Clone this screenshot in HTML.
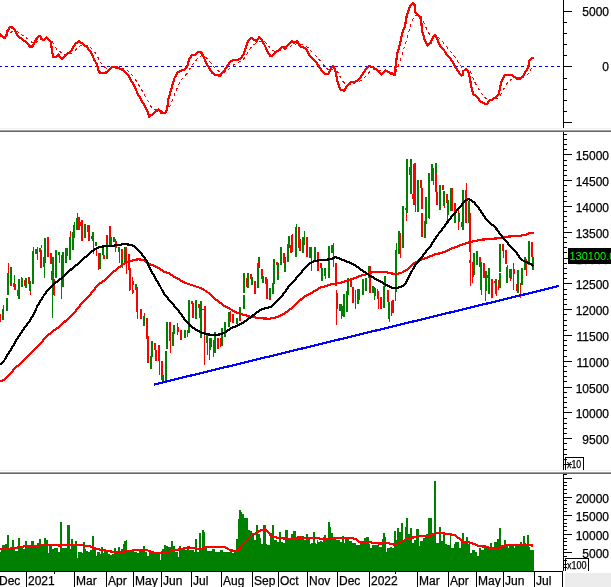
<!DOCTYPE html><html><head><meta charset="utf-8"><style>html,body{margin:0;padding:0;background:#fff;}svg{display:block;}text{font-family:"Liberation Sans", Arial, sans-serif;stroke:#000;stroke-width:0.25px;}</style></head><body>
<svg width="611" height="587" viewBox="0 0 611 587">
<rect x="0" y="0" width="611" height="587" fill="#fff"/>
<rect x="0" y="128" width="611" height="1" fill="#f0f0f0" shape-rendering="crispEdges"/>
<rect x="0" y="130" width="611" height="1" fill="#a0a0a0" shape-rendering="crispEdges"/>
<rect x="0" y="131" width="611" height="1" fill="#696969" shape-rendering="crispEdges"/>
<rect x="0" y="470" width="611" height="1" fill="#f0f0f0" shape-rendering="crispEdges"/>
<rect x="0" y="472" width="611" height="1" fill="#a0a0a0" shape-rendering="crispEdges"/>
<rect x="0" y="473" width="611" height="1" fill="#696969" shape-rendering="crispEdges"/>
<g shape-rendering="crispEdges">
<line x1="0" y1="66.5" x2="563" y2="66.5" stroke="#0000ff" stroke-width="1" stroke-dasharray="3 3" stroke-dashoffset="1"/>
</g>
<polyline points="0.0,36.3 1.0,36.1 2.0,36.1 3.0,36.2 4.0,36.4 5.0,36.6 6.0,36.5 7.0,36.0 8.0,35.1 9.0,34.2 10.0,33.2 11.0,32.4 12.0,31.7 13.0,31.2 14.0,30.8 15.0,30.8 16.0,31.0 17.0,31.5 18.0,32.2 19.0,32.8 20.0,33.5 21.0,34.2 22.0,34.8 23.0,35.5 24.0,36.2 25.0,36.9 26.0,37.7 27.0,38.4 28.0,39.2 29.0,40.1 30.0,41.0 31.0,41.7 32.0,42.4 33.0,42.9 34.0,43.0 35.0,42.7 36.0,42.3 37.0,41.7 38.0,41.1 39.0,40.4 40.0,39.9 41.0,39.6 42.0,39.5 43.0,39.5 44.0,39.6 45.0,39.5 46.0,39.3 47.0,39.1 48.0,39.1 49.0,39.2 50.0,39.4 51.0,39.7 52.0,41.2 53.0,43.3 54.0,45.3 55.0,47.0 56.0,48.3 57.0,49.4 58.0,50.2 59.0,50.9 60.0,51.7 61.0,52.6 62.0,53.5 63.0,54.2 64.0,54.6 65.0,54.8 66.0,54.8 67.0,54.7 68.0,54.6 69.0,54.3 70.0,54.0 71.0,53.6 72.0,53.0 73.0,52.3 74.0,51.4 75.0,50.4 76.0,49.4 77.0,48.5 78.0,47.5 79.0,46.6 80.0,45.9 81.0,45.5 82.0,45.2 83.0,45.0 84.0,45.0 85.0,45.1 86.0,45.3 87.0,45.5 88.0,45.9 89.0,46.5 90.0,47.1 91.0,47.9 92.0,48.8 93.0,49.9 94.0,51.2 95.0,52.6 96.0,54.0 97.0,55.6 98.0,57.4 99.0,59.4 100.0,61.3 101.0,62.9 102.0,64.3 103.0,65.5 104.0,66.5 105.0,67.4 106.0,68.1 107.0,68.6 108.0,69.0 109.0,69.2 110.0,69.2 111.0,69.1 112.0,68.8 113.0,68.6 114.0,68.4 115.0,68.2 116.0,68.1 117.0,68.0 118.0,67.9 119.0,67.9 120.0,68.1 121.0,68.2 122.0,68.4 123.0,68.7 124.0,68.9 125.0,69.3 126.0,69.8 127.0,70.4 128.0,71.1 129.0,71.9 130.0,72.8 131.0,73.9 132.0,75.0 133.0,76.2 134.0,77.5 135.0,78.9 136.0,80.5 137.0,82.1 138.0,83.8 139.0,85.5 140.0,87.2 141.0,88.9 142.0,90.6 143.0,92.3 144.0,94.1 145.0,95.8 146.0,97.6 147.0,99.3 148.0,101.3 149.0,103.3 150.0,105.1 151.0,106.6 152.0,107.7 153.0,108.6 154.0,109.3 155.0,109.7 156.0,110.0 157.0,110.0 158.0,110.0 159.0,110.0 160.0,110.2 161.0,110.5 162.0,110.9 163.0,111.2 164.0,111.5 165.0,111.7 166.0,111.7 167.0,111.3 168.0,109.8 169.0,108.0 170.0,106.0 171.0,103.8 172.0,101.4 173.0,98.8 174.0,96.1 175.0,93.5 176.0,90.9 177.0,88.5 178.0,86.1 179.0,84.1 180.0,82.3 181.0,80.7 182.0,79.2 183.0,78.0 184.0,76.8 185.0,75.7 186.0,74.6 187.0,73.4 188.0,72.1 189.0,70.3 190.0,68.6 191.0,66.9 192.0,65.2 193.0,63.8 194.0,62.6 195.0,61.5 196.0,60.4 197.0,59.3 198.0,58.3 199.0,57.4 200.0,56.7 201.0,56.1 202.0,55.8 203.0,55.7 204.0,56.0 205.0,56.6 206.0,57.4 207.0,58.4 208.0,59.4 209.0,60.6 210.0,61.9 211.0,63.1 212.0,64.5 213.0,65.7 214.0,66.9 215.0,68.0 216.0,68.9 217.0,69.8 218.0,70.6 219.0,71.3 220.0,71.9 221.0,72.2 222.0,72.4 223.0,72.4 224.0,72.2 225.0,71.8 226.0,71.3 227.0,70.7 228.0,69.9 229.0,69.0 230.0,68.0 231.0,67.1 232.0,66.2 233.0,65.3 234.0,64.5 235.0,63.9 236.0,63.3 237.0,62.9 238.0,62.5 239.0,62.0 240.0,61.6 241.0,61.1 242.0,60.4 243.0,59.6 244.0,58.7 245.0,57.6 246.0,56.1 247.0,54.4 248.0,52.6 249.0,50.8 250.0,49.1 251.0,47.6 252.0,46.3 253.0,45.3 254.0,44.5 255.0,43.9 256.0,43.6 257.0,43.2 258.0,42.6 259.0,41.9 260.0,41.4 261.0,41.1 262.0,41.0 263.0,41.2 264.0,41.6 265.0,42.2 266.0,43.0 267.0,44.1 268.0,45.3 269.0,46.5 270.0,47.8 271.0,49.0 272.0,49.9 273.0,50.7 274.0,51.1 275.0,51.3 276.0,51.3 277.0,51.3 278.0,51.2 279.0,51.0 280.0,50.8 281.0,50.5 282.0,50.1 283.0,49.6 284.0,49.3 285.0,49.2 286.0,48.9 287.0,48.6 288.0,48.1 289.0,47.4 290.0,46.8 291.0,46.1 292.0,45.4 293.0,44.9 294.0,44.7 295.0,44.3 296.0,44.0 297.0,43.6 298.0,43.4 299.0,43.6 300.0,44.0 301.0,44.4 302.0,44.7 303.0,45.0 304.0,45.4 305.0,45.8 306.0,46.3 307.0,46.9 308.0,47.7 309.0,48.6 310.0,49.7 311.0,50.8 312.0,51.9 313.0,52.9 314.0,54.0 315.0,55.0 316.0,56.0 317.0,57.1 318.0,58.2 319.0,59.4 320.0,60.6 321.0,61.9 322.0,63.1 323.0,64.3 324.0,65.5 325.0,66.6 326.0,67.7 327.0,68.5 328.0,69.3 329.0,69.8 330.0,69.9 331.0,69.7 332.0,69.4 333.0,68.9 334.0,68.8 335.0,68.9 336.0,69.6 337.0,70.9 338.0,72.6 339.0,74.5 340.0,76.5 341.0,78.3 342.0,80.0 343.0,81.4 344.0,82.7 345.0,83.7 346.0,84.2 347.0,84.5 348.0,84.5 349.0,84.4 350.0,84.2 351.0,83.9 352.0,83.6 353.0,83.4 354.0,83.3 355.0,83.1 356.0,82.9 357.0,82.6 358.0,82.3 359.0,81.8 360.0,81.2 361.0,80.6 362.0,79.8 363.0,78.9 364.0,78.0 365.0,77.0 366.0,75.9 367.0,74.8 368.0,73.7 369.0,72.6 370.0,71.7 371.0,71.0 372.0,70.5 373.0,70.1 374.0,69.8 375.0,69.7 376.0,69.6 377.0,69.7 378.0,69.9 379.0,70.2 380.0,70.6 381.0,71.2 382.0,71.6 383.0,71.8 384.0,71.8 385.0,71.6 386.0,71.5 387.0,71.5 388.0,71.5 389.0,71.6 390.0,71.9 391.0,72.2 392.0,72.5 393.0,72.8 394.0,73.0 395.0,72.9 396.0,71.5 397.0,69.3 398.0,66.7 399.0,64.0 400.0,61.2 401.0,58.1 402.0,54.8 403.0,51.5 404.0,48.3 405.0,45.2 406.0,41.7 407.0,37.8 408.0,34.2 409.0,30.7 410.0,27.3 411.0,24.2 412.0,21.4 413.0,18.8 414.0,16.7 415.0,15.6 416.0,15.2 417.0,15.0 418.0,14.9 419.0,15.1 420.0,15.4 421.0,15.9 422.0,17.8 423.0,20.1 424.0,22.6 425.0,25.0 426.0,27.4 427.0,29.8 428.0,31.9 429.0,33.6 430.0,35.0 431.0,36.0 432.0,36.4 433.0,36.6 434.0,36.5 435.0,36.3 436.0,36.4 437.0,36.7 438.0,37.3 439.0,38.1 440.0,39.2 441.0,40.2 442.0,41.2 443.0,42.3 444.0,43.4 445.0,44.6 446.0,45.8 447.0,47.0 448.0,48.3 449.0,49.5 450.0,50.7 451.0,52.0 452.0,53.2 453.0,54.4 454.0,55.8 455.0,57.3 456.0,58.8 457.0,60.3 458.0,61.8 459.0,63.3 460.0,64.8 461.0,66.3 462.0,67.5 463.0,68.3 464.0,68.6 465.0,68.8 466.0,68.9 467.0,69.1 468.0,69.4 469.0,70.0 470.0,71.3 471.0,73.1 472.0,75.4 473.0,78.0 474.0,80.4 475.0,82.5 476.0,84.4 477.0,86.2 478.0,87.8 479.0,89.5 480.0,91.2 481.0,92.7 482.0,94.0 483.0,95.2 484.0,96.4 485.0,97.4 486.0,98.3 487.0,99.1 488.0,99.6 489.0,99.8 490.0,99.9 491.0,99.9 492.0,99.9 493.0,99.8 494.0,99.6 495.0,99.3 496.0,99.0 497.0,98.6 498.0,98.2 499.0,97.5 500.0,96.1 501.0,94.3 502.0,92.4 503.0,90.3 504.0,88.4 505.0,86.5 506.0,84.9 507.0,83.5 508.0,82.3 509.0,81.3 510.0,80.4 511.0,79.6 512.0,78.9 513.0,78.5 514.0,78.2 515.0,78.1 516.0,78.1 517.0,78.2 518.0,78.2 519.0,78.3 520.0,78.3 521.0,78.2 522.0,78.1 523.0,77.8 524.0,77.3 525.0,76.7 526.0,75.9 527.0,75.0 528.0,73.8 529.0,72.4 530.0,70.7 531.0,69.1 532.0,67.5 533.0,66.2" fill="none" stroke="#ff0000" stroke-width="1" stroke-dasharray="3 3" shape-rendering="crispEdges"/>
<polyline points="0.0,33.7 2.0,36.3 4.6,38.0 6.6,34.8 7.7,30.2 10.2,27.1 13.3,27.8 15.3,30.7 17.4,35.8 20.4,37.8 24.5,40.9 28.1,44.0 29.7,46.5 32.7,46.5 35.3,40.4 38.9,36.3 40.4,36.3 41.4,38.9 44.0,39.9 46.5,37.6 49.1,39.9 51.1,41.9 51.6,48.1 53.2,57.3 55.2,57.3 57.3,55.7 58.4,54.6 61.9,59.2 66.5,54.6 71.0,51.2 75.0,44.3 79.1,40.9 82.5,43.8 87.1,47.2 91.7,53.5 94.0,59.2 96.8,64.4 99.1,72.4 103.1,73.0 106.6,72.4 112.3,67.2 117.4,67.2 120.0,68.7 124.2,70.7 128.3,75.6 133.9,85.3 138.1,94.4 143.7,104.1 147.1,110.4 149.2,116.6 153.4,113.9 158.3,109.3 161.7,113.2 165.2,113.2 167.3,108.3 168.0,100.6 170.8,90.9 174.3,78.4 177.7,72.1 181.2,70.7 184.7,69.4 187.5,65.8 188.9,59.6 191.6,55.4 195.1,54.7 197.9,51.9 201.4,52.6 203.5,56.1 205.2,61.0 208.8,67.5 212.2,73.0 215.5,74.8 220.0,75.7 223.2,72.0 226.5,67.5 230.0,62.0 233.2,59.7 237.6,60.2 241.0,58.0 244.2,53.0 246.5,45.4 248.7,39.8 251.3,38.0 254.2,39.8 256.4,41.6 259.3,37.2 262.4,41.0 265.3,46.5 267.5,52.0 270.8,56.4 273.0,55.3 275.2,52.0 279.6,49.8 283.0,46.5 285.2,48.7 288.5,44.2 291.8,41.0 294.0,43.0 297.3,41.0 300.0,46.5 303.3,47.0 306.6,49.8 310.0,56.4 313.3,59.7 316.6,63.0 321.0,69.7 325.4,74.0 328.3,74.0 331.0,68.6 333.2,66.0 335.4,70.8 337.6,81.9 340.3,89.6 344.2,90.7 347.6,85.2 350.9,81.9 354.2,82.3 357.5,80.8 362.0,75.2 366.4,68.6 369.0,66.0 373.0,67.5 377.4,70.4 381.4,74.8 385.2,70.4 388.5,72.0 390.7,74.0 394.7,74.8 395.6,66.4 397.3,53.0 400.0,44.2 402.2,33.2 404.9,26.5 407.0,14.4 410.0,6.6 412.8,2.7 414.4,4.4 415.5,12.2 418.8,15.5 421.0,18.8 422.1,31.0 424.3,38.7 427.6,45.4 430.5,43.1 432.7,37.6 435.0,35.0 437.6,39.8 439.8,45.4 443.1,48.7 446.5,54.2 449.8,58.0 453.0,62.0 455.0,66.4 457.8,70.9 461.3,75.7 462.6,75.0 463.3,70.9 465.4,69.7 468.2,70.9 469.6,76.4 471.0,84.8 473.1,94.5 475.9,95.9 478.6,98.7 480.0,101.5 482.8,102.6 484.9,104.0 487.7,103.5 489.1,100.8 492.6,99.4 496.7,96.6 498.8,94.5 499.5,90.3 500.9,83.4 503.0,77.8 505.1,75.0 512.0,74.8 516.2,78.5 520.4,78.5 523.2,75.7 526.6,70.2 528.7,65.3 529.4,61.1 531.5,58.3 533.6,57.6" fill="none" stroke="#ff0000" stroke-width="2.2" stroke-linejoin="round" shape-rendering="crispEdges"/>
<g shape-rendering="crispEdges"><rect x="563" y="0" width="1" height="128" fill="#000"/><rect x="563" y="132" width="1" height="338" fill="#000"/><rect x="563" y="474" width="1" height="97" fill="#000"/><rect x="564" y="11" width="8" height="1" fill="#000"/><rect x="564" y="22" width="3" height="1" fill="#000"/><rect x="564" y="33" width="3" height="1" fill="#000"/><rect x="564" y="44" width="3" height="1" fill="#000"/><rect x="564" y="55" width="3" height="1" fill="#000"/><rect x="564" y="66" width="8" height="1" fill="#000"/><rect x="564" y="78" width="3" height="1" fill="#000"/><rect x="564" y="89" width="3" height="1" fill="#000"/><rect x="564" y="100" width="3" height="1" fill="#000"/><rect x="564" y="111" width="3" height="1" fill="#000"/><rect x="564" y="122" width="8" height="1" fill="#000"/><rect x="564" y="464" width="8" height="1" fill="#000"/><rect x="564" y="459" width="3" height="1" fill="#000"/><rect x="564" y="454" width="3" height="1" fill="#000"/><rect x="564" y="449" width="3" height="1" fill="#000"/><rect x="564" y="443" width="3" height="1" fill="#000"/><rect x="564" y="438" width="8" height="1" fill="#000"/><rect x="564" y="433" width="3" height="1" fill="#000"/><rect x="564" y="428" width="3" height="1" fill="#000"/><rect x="564" y="423" width="3" height="1" fill="#000"/><rect x="564" y="418" width="3" height="1" fill="#000"/><rect x="564" y="412" width="8" height="1" fill="#000"/><rect x="564" y="407" width="3" height="1" fill="#000"/><rect x="564" y="402" width="3" height="1" fill="#000"/><rect x="564" y="397" width="3" height="1" fill="#000"/><rect x="564" y="392" width="3" height="1" fill="#000"/><rect x="564" y="387" width="8" height="1" fill="#000"/><rect x="564" y="381" width="3" height="1" fill="#000"/><rect x="564" y="376" width="3" height="1" fill="#000"/><rect x="564" y="371" width="3" height="1" fill="#000"/><rect x="564" y="366" width="3" height="1" fill="#000"/><rect x="564" y="361" width="8" height="1" fill="#000"/><rect x="564" y="356" width="3" height="1" fill="#000"/><rect x="564" y="350" width="3" height="1" fill="#000"/><rect x="564" y="345" width="3" height="1" fill="#000"/><rect x="564" y="340" width="3" height="1" fill="#000"/><rect x="564" y="335" width="8" height="1" fill="#000"/><rect x="564" y="330" width="3" height="1" fill="#000"/><rect x="564" y="325" width="3" height="1" fill="#000"/><rect x="564" y="320" width="3" height="1" fill="#000"/><rect x="564" y="314" width="3" height="1" fill="#000"/><rect x="564" y="309" width="8" height="1" fill="#000"/><rect x="564" y="304" width="3" height="1" fill="#000"/><rect x="564" y="299" width="3" height="1" fill="#000"/><rect x="564" y="294" width="3" height="1" fill="#000"/><rect x="564" y="289" width="3" height="1" fill="#000"/><rect x="564" y="283" width="8" height="1" fill="#000"/><rect x="564" y="278" width="3" height="1" fill="#000"/><rect x="564" y="273" width="3" height="1" fill="#000"/><rect x="564" y="268" width="3" height="1" fill="#000"/><rect x="564" y="263" width="3" height="1" fill="#000"/><rect x="564" y="258" width="8" height="1" fill="#000"/><rect x="564" y="252" width="3" height="1" fill="#000"/><rect x="564" y="247" width="3" height="1" fill="#000"/><rect x="564" y="242" width="3" height="1" fill="#000"/><rect x="564" y="237" width="3" height="1" fill="#000"/><rect x="564" y="232" width="8" height="1" fill="#000"/><rect x="564" y="227" width="3" height="1" fill="#000"/><rect x="564" y="221" width="3" height="1" fill="#000"/><rect x="564" y="216" width="3" height="1" fill="#000"/><rect x="564" y="211" width="3" height="1" fill="#000"/><rect x="564" y="206" width="8" height="1" fill="#000"/><rect x="564" y="201" width="3" height="1" fill="#000"/><rect x="564" y="196" width="3" height="1" fill="#000"/><rect x="564" y="191" width="3" height="1" fill="#000"/><rect x="564" y="185" width="3" height="1" fill="#000"/><rect x="564" y="180" width="8" height="1" fill="#000"/><rect x="564" y="175" width="3" height="1" fill="#000"/><rect x="564" y="170" width="3" height="1" fill="#000"/><rect x="564" y="165" width="3" height="1" fill="#000"/><rect x="564" y="160" width="3" height="1" fill="#000"/><rect x="564" y="154" width="8" height="1" fill="#000"/><rect x="564" y="149" width="3" height="1" fill="#000"/><rect x="564" y="144" width="3" height="1" fill="#000"/><rect x="564" y="139" width="3" height="1" fill="#000"/><rect x="564" y="134" width="3" height="1" fill="#000"/><rect x="564" y="567" width="3" height="1" fill="#000"/><rect x="564" y="564" width="3" height="1" fill="#000"/><rect x="564" y="560" width="3" height="1" fill="#000"/><rect x="564" y="556" width="3" height="1" fill="#000"/><rect x="564" y="552" width="8" height="1" fill="#000"/><rect x="564" y="549" width="3" height="1" fill="#000"/><rect x="564" y="545" width="3" height="1" fill="#000"/><rect x="564" y="541" width="3" height="1" fill="#000"/><rect x="564" y="538" width="3" height="1" fill="#000"/><rect x="564" y="534" width="8" height="1" fill="#000"/><rect x="564" y="530" width="3" height="1" fill="#000"/><rect x="564" y="526" width="3" height="1" fill="#000"/><rect x="564" y="523" width="3" height="1" fill="#000"/><rect x="564" y="519" width="3" height="1" fill="#000"/><rect x="564" y="515" width="8" height="1" fill="#000"/><rect x="564" y="511" width="3" height="1" fill="#000"/><rect x="564" y="508" width="3" height="1" fill="#000"/><rect x="564" y="504" width="3" height="1" fill="#000"/><rect x="564" y="500" width="3" height="1" fill="#000"/><rect x="564" y="497" width="8" height="1" fill="#000"/><rect x="564" y="493" width="3" height="1" fill="#000"/><rect x="564" y="489" width="3" height="1" fill="#000"/><rect x="564" y="485" width="3" height="1" fill="#000"/><rect x="564" y="482" width="3" height="1" fill="#000"/><rect x="564" y="478" width="8" height="1" fill="#000"/><rect x="564" y="474" width="3" height="1" fill="#000"/></g>
<text x="609" y="16.2" font-size="12" text-anchor="end" fill="#000">5000</text><text x="609" y="71.2" font-size="12" text-anchor="end" fill="#000">0</text><text x="609" y="443.5" font-size="12" text-anchor="end" fill="#000">9500</text><text x="609" y="417.5" font-size="12" text-anchor="end" fill="#000">10000</text><text x="609" y="392.5" font-size="12" text-anchor="end" fill="#000">10500</text><text x="609" y="366.5" font-size="12" text-anchor="end" fill="#000">11000</text><text x="609" y="340.5" font-size="12" text-anchor="end" fill="#000">11500</text><text x="609" y="314.5" font-size="12" text-anchor="end" fill="#000">12000</text><text x="609" y="288.5" font-size="12" text-anchor="end" fill="#000">12500</text><text x="609" y="263.5" font-size="12" text-anchor="end" fill="#000">13000</text><text x="609" y="237.5" font-size="12" text-anchor="end" fill="#000">13500</text><text x="609" y="211.5" font-size="12" text-anchor="end" fill="#000">14000</text><text x="609" y="185.5" font-size="12" text-anchor="end" fill="#000">14500</text><text x="609" y="159.5" font-size="12" text-anchor="end" fill="#000">15000</text><text x="609" y="557.5" font-size="12" text-anchor="end" fill="#000">5000</text><text x="609" y="539.5" font-size="12" text-anchor="end" fill="#000">10000</text><text x="609" y="520.5" font-size="12" text-anchor="end" fill="#000">15000</text><text x="609" y="502.5" font-size="12" text-anchor="end" fill="#000">20000</text>
<g shape-rendering="crispEdges" fill="none" stroke="#000" stroke-width="1">
<polyline points="565.5,470 565.5,457.5 583.5,457.5 583.5,470"/>
<polyline points="565.5,571 565.5,558.5 588.5,558.5 588.5,571"/>
</g>
<text x="567" y="468" font-size="10" textLength="14.2" lengthAdjust="spacingAndGlyphs" fill="#000">x10</text>
<text x="567" y="568.5" font-size="10" textLength="19.6" lengthAdjust="spacingAndGlyphs" fill="#000">x100</text>
<g shape-rendering="crispEdges"><rect x="0" y="314" width="1" height="8" fill="#ff0000"/><rect x="2" y="309" width="2" height="11" fill="#008000"/><rect x="3" y="305" width="1" height="4" fill="#ff0000"/><rect x="6" y="298" width="2" height="13" fill="#008000"/><rect x="7" y="273" width="2" height="22" fill="#008000"/><rect x="8" y="263" width="1" height="10" fill="#ff0000"/><rect x="10" y="267" width="2" height="17" fill="#008000"/><rect x="10" y="284" width="2" height="2" fill="#ff0000"/><rect x="13" y="283" width="2" height="4" fill="#008000"/><rect x="14" y="275" width="1" height="8" fill="#008000"/><rect x="14" y="284" width="2" height="6" fill="#ff0000"/><rect x="17" y="290" width="2" height="6" fill="#ff0000"/><rect x="18" y="279" width="2" height="20" fill="#008000"/><rect x="21" y="279" width="2" height="8" fill="#008000"/><rect x="21" y="277" width="1" height="2" fill="#ff0000"/><rect x="22" y="278" width="1" height="7" fill="#008000"/><rect x="24" y="280" width="1" height="6" fill="#ff0000"/><rect x="25" y="278" width="2" height="10" fill="#008000"/><rect x="28" y="277" width="2" height="7" fill="#ff0000"/><rect x="29" y="281" width="2" height="10" fill="#008000"/><rect x="30" y="291" width="1" height="4" fill="#ff0000"/><rect x="32" y="251" width="2" height="33" fill="#008000"/><rect x="33" y="247" width="1" height="4" fill="#008000"/><rect x="35" y="249" width="2" height="5" fill="#008000"/><rect x="37" y="247" width="1" height="13" fill="#ff0000"/><rect x="39" y="248" width="2" height="4" fill="#008000"/><rect x="41" y="245" width="1" height="3" fill="#008000"/><rect x="40" y="250" width="2" height="18" fill="#ff0000"/><rect x="43" y="257" width="2" height="10" fill="#008000"/><rect x="44" y="267" width="1" height="11" fill="#008000"/><rect x="44" y="238" width="2" height="25" fill="#008000"/><rect x="47" y="237" width="2" height="20" fill="#ff0000"/><rect x="50" y="253" width="2" height="11" fill="#ff0000"/><rect x="51" y="271" width="1" height="9" fill="#ff0000"/><rect x="52" y="257" width="2" height="38" fill="#008000"/><rect x="52" y="295" width="1" height="23" fill="#008000"/><rect x="54" y="279" width="1" height="17" fill="#ff0000"/><rect x="55" y="250" width="2" height="28" fill="#008000"/><rect x="58" y="252" width="2" height="3" fill="#008000"/><rect x="59" y="255" width="1" height="8" fill="#ff0000"/><rect x="61" y="255" width="1" height="44" fill="#ff0000"/><rect x="61" y="265" width="2" height="20" fill="#ff0000"/><rect x="62" y="252" width="2" height="35" fill="#008000"/><rect x="65" y="248" width="2" height="15" fill="#008000"/><rect x="66" y="248" width="2" height="8" fill="#008000"/><rect x="69" y="237" width="2" height="23" fill="#008000"/><rect x="70" y="231" width="1" height="6" fill="#ff0000"/><rect x="72" y="232" width="2" height="18" fill="#008000"/><rect x="73" y="225" width="1" height="7" fill="#008000"/><rect x="74" y="222" width="1" height="16" fill="#008000"/><rect x="76" y="218" width="2" height="12" fill="#008000"/><rect x="77" y="213" width="1" height="5" fill="#008000"/><rect x="78" y="217" width="2" height="13" fill="#ff0000"/><rect x="80" y="222" width="2" height="4" fill="#ff0000"/><rect x="81" y="220" width="2" height="21" fill="#ff0000"/><rect x="84" y="224" width="2" height="14" fill="#008000"/><rect x="87" y="225" width="2" height="7" fill="#ff0000"/><rect x="88" y="232" width="1" height="9" fill="#ff0000"/><rect x="89" y="225" width="1" height="16" fill="#ff0000"/><rect x="91" y="236" width="1" height="3" fill="#ff0000"/><rect x="92" y="232" width="2" height="9" fill="#008000"/><rect x="93" y="241" width="1" height="13" fill="#ff0000"/><rect x="95" y="242" width="2" height="4" fill="#008000"/><rect x="96" y="249" width="1" height="7" fill="#ff0000"/><rect x="98" y="253" width="1" height="17" fill="#ff0000"/><rect x="99" y="253" width="2" height="16" fill="#008000"/><rect x="102" y="248" width="2" height="7" fill="#008000"/><rect x="103" y="255" width="2" height="4" fill="#ff0000"/><rect x="106" y="235" width="2" height="8" fill="#ff0000"/><rect x="106" y="243" width="2" height="16" fill="#008000"/><rect x="109" y="226" width="2" height="19" fill="#ff0000"/><rect x="110" y="237" width="2" height="8" fill="#008000"/><rect x="113" y="237" width="2" height="5" fill="#008000"/><rect x="115" y="239" width="1" height="13" fill="#ff0000"/><rect x="115" y="241" width="2" height="7" fill="#ff0000"/><rect x="118" y="247" width="2" height="5" fill="#008000"/><rect x="119" y="252" width="1" height="11" fill="#ff0000"/><rect x="121" y="249" width="2" height="11" fill="#ff0000"/><rect x="121" y="260" width="2" height="4" fill="#008000"/><rect x="122" y="264" width="1" height="4" fill="#008000"/><rect x="124" y="247" width="2" height="15" fill="#008000"/><rect x="126" y="247" width="1" height="27" fill="#ff0000"/><rect x="128" y="254" width="2" height="16" fill="#ff0000"/><rect x="129" y="270" width="1" height="21" fill="#ff0000"/><rect x="130" y="268" width="1" height="22" fill="#ff0000"/><rect x="132" y="277" width="1" height="17" fill="#ff0000"/><rect x="133" y="281" width="1" height="4" fill="#ff0000"/><rect x="133" y="290" width="1" height="3" fill="#ff0000"/><rect x="135" y="284" width="2" height="6" fill="#008000"/><rect x="136" y="287" width="2" height="25" fill="#ff0000"/><rect x="137" y="312" width="1" height="7" fill="#ff0000"/><rect x="140" y="309" width="2" height="10" fill="#ff0000"/><rect x="143" y="316" width="2" height="10" fill="#008000"/><rect x="144" y="313" width="1" height="3" fill="#ff0000"/><rect x="146" y="318" width="2" height="21" fill="#ff0000"/><rect x="147" y="339" width="1" height="16" fill="#ff0000"/><rect x="147" y="336" width="2" height="27" fill="#ff0000"/><rect x="150" y="356" width="2" height="13" fill="#008000"/><rect x="151" y="341" width="2" height="16" fill="#008000"/><rect x="154" y="343" width="2" height="7" fill="#ff0000"/><rect x="155" y="350" width="1" height="11" fill="#ff0000"/><rect x="156" y="350" width="1" height="11" fill="#ff0000"/><rect x="158" y="345" width="2" height="16" fill="#ff0000"/><rect x="159" y="361" width="1" height="14" fill="#ff0000"/><rect x="161" y="361" width="2" height="19" fill="#ff0000"/><rect x="162" y="375" width="2" height="6" fill="#008000"/><rect x="165" y="351" width="2" height="30" fill="#008000"/><rect x="166" y="322" width="2" height="27" fill="#008000"/><rect x="169" y="322" width="2" height="19" fill="#ff0000"/><rect x="170" y="341" width="1" height="12" fill="#ff0000"/><rect x="172" y="332" width="2" height="14" fill="#008000"/><rect x="173" y="325" width="2" height="9" fill="#008000"/><rect x="177" y="323" width="1" height="12" fill="#ff0000"/><rect x="177" y="327" width="2" height="5" fill="#ff0000"/><rect x="180" y="330" width="2" height="10" fill="#ff0000"/><rect x="181" y="333" width="1" height="6" fill="#008000"/><rect x="184" y="330" width="2" height="8" fill="#008000"/><rect x="185" y="330" width="1" height="4" fill="#008000"/><rect x="187" y="330" width="1" height="7" fill="#ff0000"/><rect x="188" y="300" width="2" height="33" fill="#008000"/><rect x="191" y="301" width="2" height="3" fill="#ff0000"/><rect x="192" y="303" width="2" height="15" fill="#ff0000"/><rect x="195" y="300" width="2" height="19" fill="#008000"/><rect x="198" y="304" width="2" height="4" fill="#ff0000"/><rect x="199" y="308" width="1" height="10" fill="#ff0000"/><rect x="200" y="301" width="2" height="37" fill="#008000"/><rect x="202" y="309" width="2" height="1" fill="#ff0000"/><rect x="204" y="306" width="2" height="29" fill="#ff0000"/><rect x="204" y="335" width="1" height="30" fill="#ff0000"/><rect x="206" y="334" width="2" height="9" fill="#008000"/><rect x="207" y="337" width="1" height="18" fill="#ff0000"/><rect x="209" y="338" width="2" height="12" fill="#008000"/><rect x="209" y="350" width="1" height="10" fill="#008000"/><rect x="211" y="338" width="1" height="9" fill="#ff0000"/><rect x="213" y="340" width="1" height="17" fill="#ff0000"/><rect x="214" y="332" width="2" height="21" fill="#008000"/><rect x="217" y="338" width="2" height="11" fill="#ff0000"/><rect x="220" y="338" width="1" height="9" fill="#ff0000"/><rect x="221" y="328" width="2" height="18" fill="#008000"/><rect x="224" y="322" width="2" height="15" fill="#008000"/><rect x="228" y="312" width="2" height="15" fill="#008000"/><rect x="230" y="311" width="1" height="11" fill="#ff0000"/><rect x="232" y="314" width="2" height="9" fill="#ff0000"/><rect x="236" y="319" width="1" height="4" fill="#ff0000"/><rect x="236" y="318" width="2" height="6" fill="#008000"/><rect x="239" y="307" width="2" height="14" fill="#008000"/><rect x="240" y="317" width="1" height="4" fill="#ff0000"/><rect x="243" y="273" width="2" height="20" fill="#008000"/><rect x="243" y="295" width="2" height="14" fill="#008000"/><rect x="246" y="278" width="1" height="9" fill="#ff0000"/><rect x="247" y="273" width="2" height="15" fill="#008000"/><rect x="250" y="274" width="2" height="5" fill="#ff0000"/><rect x="251" y="277" width="2" height="8" fill="#008000"/><rect x="254" y="281" width="2" height="13" fill="#ff0000"/><rect x="257" y="263" width="2" height="25" fill="#008000"/><rect x="258" y="257" width="2" height="5" fill="#008000"/><rect x="258" y="261" width="2" height="7" fill="#ff0000"/><rect x="261" y="269" width="2" height="10" fill="#ff0000"/><rect x="262" y="276" width="2" height="7" fill="#008000"/><rect x="265" y="277" width="2" height="7" fill="#ff0000"/><rect x="266" y="279" width="2" height="20" fill="#ff0000"/><rect x="269" y="288" width="2" height="12" fill="#008000"/><rect x="270" y="298" width="1" height="2" fill="#ff0000"/><rect x="272" y="283" width="2" height="11" fill="#008000"/><rect x="273" y="259" width="2" height="25" fill="#008000"/><rect x="276" y="262" width="2" height="3" fill="#ff0000"/><rect x="277" y="263" width="2" height="17" fill="#008000"/><rect x="278" y="271" width="1" height="2" fill="#ff0000"/><rect x="280" y="247" width="2" height="18" fill="#008000"/><rect x="283" y="253" width="2" height="10" fill="#ff0000"/><rect x="284" y="263" width="2" height="9" fill="#008000"/><rect x="285" y="257" width="1" height="6" fill="#ff0000"/><rect x="285" y="263" width="1" height="9" fill="#008000"/><rect x="287" y="244" width="2" height="18" fill="#008000"/><rect x="288" y="236" width="2" height="12" fill="#008000"/><rect x="290" y="245" width="2" height="8" fill="#ff0000"/><rect x="291" y="235" width="2" height="11" fill="#008000"/><rect x="292" y="234" width="1" height="18" fill="#ff0000"/><rect x="295" y="227" width="2" height="30" fill="#008000"/><rect x="296" y="224" width="1" height="3" fill="#008000"/><rect x="295" y="251" width="1" height="6" fill="#ff0000"/><rect x="298" y="227" width="2" height="21" fill="#ff0000"/><rect x="299" y="239" width="2" height="12" fill="#ff0000"/><rect x="302" y="237" width="2" height="16" fill="#008000"/><rect x="304" y="231" width="1" height="14" fill="#008000"/><rect x="306" y="237" width="2" height="20" fill="#ff0000"/><rect x="309" y="247" width="2" height="11" fill="#008000"/><rect x="311" y="247" width="1" height="24" fill="#ff0000"/><rect x="314" y="247" width="2" height="13" fill="#008000"/><rect x="317" y="252" width="2" height="19" fill="#ff0000"/><rect x="320" y="263" width="2" height="5" fill="#ff0000"/><rect x="321" y="268" width="2" height="13" fill="#008000"/><rect x="324" y="268" width="2" height="8" fill="#008000"/><rect x="325" y="276" width="1" height="3" fill="#ff0000"/><rect x="328" y="246" width="2" height="32" fill="#008000"/><rect x="331" y="245" width="2" height="8" fill="#008000"/><rect x="333" y="243" width="1" height="24" fill="#ff0000"/><rect x="335" y="263" width="2" height="23" fill="#ff0000"/><rect x="336" y="290" width="1" height="35" fill="#ff0000"/><rect x="336" y="293" width="2" height="16" fill="#ff0000"/><rect x="339" y="304" width="2" height="7" fill="#008000"/><rect x="341" y="304" width="1" height="15" fill="#008000"/><rect x="341" y="306" width="2" height="10" fill="#008000"/><rect x="343" y="294" width="2" height="23" fill="#008000"/><rect x="346" y="291" width="2" height="21" fill="#008000"/><rect x="347" y="278" width="2" height="17" fill="#008000"/><rect x="350" y="279" width="2" height="8" fill="#ff0000"/><rect x="352" y="287" width="2" height="16" fill="#ff0000"/><rect x="355" y="290" width="1" height="19" fill="#ff0000"/><rect x="357" y="289" width="2" height="15" fill="#008000"/><rect x="358" y="289" width="2" height="11" fill="#008000"/><rect x="362" y="279" width="2" height="16" fill="#008000"/><rect x="365" y="278" width="2" height="13" fill="#008000"/><rect x="370" y="266" width="1" height="27" fill="#ff0000"/><rect x="369" y="272" width="1" height="21" fill="#ff0000"/><rect x="368" y="266" width="2" height="12" fill="#008000"/><rect x="372" y="286" width="2" height="7" fill="#008000"/><rect x="374" y="287" width="1" height="13" fill="#008000"/><rect x="374" y="288" width="2" height="8" fill="#008000"/><rect x="377" y="289" width="1" height="10" fill="#008000"/><rect x="377" y="291" width="2" height="6" fill="#008000"/><rect x="378" y="292" width="1" height="17" fill="#ff0000"/><rect x="380" y="297" width="2" height="12" fill="#ff0000"/><rect x="383" y="286" width="2" height="22" fill="#008000"/><rect x="384" y="276" width="2" height="11" fill="#008000"/><rect x="387" y="290" width="2" height="12" fill="#ff0000"/><rect x="388" y="302" width="2" height="17" fill="#008000"/><rect x="389" y="318" width="1" height="4" fill="#ff0000"/><rect x="391" y="301" width="1" height="15" fill="#008000"/><rect x="392" y="300" width="2" height="13" fill="#ff0000"/><rect x="395" y="250" width="2" height="42" fill="#008000"/><rect x="395" y="292" width="1" height="9" fill="#008000"/><rect x="396" y="243" width="1" height="7" fill="#008000"/><rect x="398" y="231" width="2" height="23" fill="#008000"/><rect x="400" y="233" width="1" height="25" fill="#ff0000"/><rect x="402" y="206" width="2" height="42" fill="#008000"/><rect x="405" y="208" width="1" height="2" fill="#ff0000"/><rect x="406" y="159" width="2" height="54" fill="#008000"/><rect x="406" y="213" width="1" height="8" fill="#ff0000"/><rect x="409" y="167" width="1" height="8" fill="#ff0000"/><rect x="410" y="161" width="1" height="6" fill="#ff0000"/><rect x="410" y="159" width="2" height="35" fill="#008000"/><rect x="412" y="194" width="1" height="5" fill="#ff0000"/><rect x="413" y="164" width="2" height="41" fill="#ff0000"/><rect x="415" y="163" width="1" height="49" fill="#ff0000"/><rect x="414" y="163" width="2" height="19" fill="#ff0000"/><rect x="417" y="180" width="2" height="32" fill="#008000"/><rect x="420" y="180" width="2" height="8" fill="#ff0000"/><rect x="421" y="188" width="2" height="21" fill="#ff0000"/><rect x="421" y="213" width="2" height="24" fill="#ff0000"/><rect x="424" y="221" width="2" height="17" fill="#008000"/><rect x="425" y="197" width="2" height="27" fill="#008000"/><rect x="428" y="173" width="2" height="41" fill="#008000"/><rect x="428" y="214" width="1" height="4" fill="#008000"/><rect x="429" y="214" width="1" height="5" fill="#ff0000"/><rect x="431" y="164" width="2" height="17" fill="#008000"/><rect x="433" y="168" width="1" height="17" fill="#ff0000"/><rect x="435" y="163" width="2" height="29" fill="#008000"/><rect x="436" y="174" width="1" height="31" fill="#ff0000"/><rect x="437" y="192" width="1" height="13" fill="#ff0000"/><rect x="439" y="185" width="2" height="25" fill="#008000"/><rect x="442" y="185" width="2" height="5" fill="#ff0000"/><rect x="443" y="191" width="2" height="15" fill="#008000"/><rect x="444" y="206" width="1" height="2" fill="#ff0000"/><rect x="446" y="194" width="2" height="9" fill="#ff0000"/><rect x="447" y="200" width="2" height="15" fill="#008000"/><rect x="447" y="215" width="1" height="8" fill="#008000"/><rect x="450" y="188" width="2" height="23" fill="#008000"/><rect x="452" y="188" width="1" height="23" fill="#ff0000"/><rect x="454" y="203" width="2" height="10" fill="#ff0000"/><rect x="454" y="213" width="2" height="10" fill="#008000"/><rect x="458" y="209" width="1" height="21" fill="#ff0000"/><rect x="458" y="213" width="2" height="9" fill="#008000"/><rect x="461" y="222" width="1" height="5" fill="#ff0000"/><rect x="462" y="190" width="2" height="40" fill="#008000"/><rect x="465" y="190" width="2" height="33" fill="#ff0000"/><rect x="466" y="183" width="1" height="7" fill="#ff0000"/><rect x="468" y="201" width="2" height="22" fill="#008000"/><rect x="469" y="213" width="2" height="39" fill="#ff0000"/><rect x="470" y="252" width="1" height="34" fill="#ff0000"/><rect x="469" y="260" width="2" height="3" fill="#ff0000"/><rect x="472" y="262" width="1" height="21" fill="#ff0000"/><rect x="472" y="266" width="2" height="11" fill="#ff0000"/><rect x="473" y="253" width="2" height="22" fill="#008000"/><rect x="476" y="251" width="2" height="14" fill="#008000"/><rect x="479" y="257" width="2" height="10" fill="#ff0000"/><rect x="480" y="262" width="2" height="28" fill="#008000"/><rect x="481" y="290" width="1" height="5" fill="#008000"/><rect x="483" y="263" width="2" height="15" fill="#ff0000"/><rect x="485" y="271" width="2" height="20" fill="#008000"/><rect x="485" y="291" width="1" height="10" fill="#ff0000"/><rect x="487" y="275" width="1" height="3" fill="#008000"/><rect x="488" y="268" width="2" height="26" fill="#008000"/><rect x="491" y="279" width="2" height="19" fill="#ff0000"/><rect x="494" y="281" width="1" height="2" fill="#ff0000"/><rect x="495" y="279" width="2" height="15" fill="#008000"/><rect x="496" y="285" width="1" height="11" fill="#ff0000"/><rect x="498" y="280" width="1" height="10" fill="#ff0000"/><rect x="499" y="244" width="2" height="28" fill="#008000"/><rect x="499" y="273" width="2" height="15" fill="#008000"/><rect x="502" y="244" width="2" height="7" fill="#ff0000"/><rect x="503" y="250" width="1" height="8" fill="#008000"/><rect x="505" y="250" width="2" height="14" fill="#ff0000"/><rect x="506" y="267" width="2" height="16" fill="#008000"/><rect x="507" y="265" width="1" height="3" fill="#ff0000"/><rect x="509" y="269" width="2" height="9" fill="#008000"/><rect x="510" y="277" width="1" height="4" fill="#ff0000"/><rect x="511" y="269" width="1" height="10" fill="#008000"/><rect x="513" y="263" width="1" height="27" fill="#ff0000"/><rect x="513" y="269" width="2" height="5" fill="#ff0000"/><rect x="516" y="284" width="2" height="7" fill="#ff0000"/><rect x="517" y="270" width="2" height="23" fill="#008000"/><rect x="520" y="283" width="1" height="15" fill="#ff0000"/><rect x="521" y="268" width="2" height="17" fill="#008000"/><rect x="524" y="257" width="2" height="13" fill="#008000"/><rect x="526" y="259" width="1" height="17" fill="#ff0000"/><rect x="528" y="241" width="2" height="24" fill="#008000"/><rect x="531" y="242" width="2" height="15" fill="#ff0000"/><rect x="532" y="257" width="2" height="13" fill="#008000"/></g>
<polyline points="0.0,381.0 3.7,380.2 7.5,376.4 11.2,372.7 15.0,368.0 18.7,365.2 22.5,362.0 26.2,357.7 30.0,354.0 33.7,350.2 37.5,346.5 41.2,342.7 45.0,338.0 48.7,334.7 52.4,331.5 56.2,329.0 60.0,325.9 63.7,322.7 67.4,319.3 71.2,315.6 74.9,311.8 78.7,307.2 82.4,302.5 86.1,298.7 89.9,295.0 93.6,290.3 97.4,285.5 100.0,283.2 104.0,280.6 108.9,276.5 113.8,271.6 118.7,267.5 123.6,263.9 128.6,261.7 133.5,260.1 138.4,259.3 143.3,259.8 148.5,263.9 153.6,265.6 158.7,268.1 163.9,271.5 169.0,273.2 174.1,276.6 179.2,279.5 184.3,282.6 189.4,284.3 194.5,286.0 199.6,287.7 204.7,290.3 209.8,293.7 215.0,298.8 220.1,302.7 225.2,306.4 230.0,309.0 235.1,311.6 240.2,314.1 245.3,315.0 250.4,316.7 255.6,317.5 262.4,318.4 269.2,318.7 274.3,318.0 279.4,316.3 284.5,313.3 289.6,309.8 294.7,305.6 299.8,300.5 305.0,296.2 310.1,293.7 315.2,290.8 320.3,287.7 325.1,286.2 330.2,284.5 335.3,283.7 340.4,282.8 345.6,281.1 350.7,279.4 355.8,277.7 360.9,275.7 366.0,274.3 371.1,272.6 376.2,271.7 381.3,271.7 386.4,272.2 391.5,273.4 396.7,274.0 401.8,272.6 406.9,270.0 412.0,264.9 415.4,262.4 420.2,260.1 425.3,258.4 430.4,256.3 435.6,254.1 440.7,253.2 445.8,251.3 450.9,248.8 456.0,247.0 461.1,245.0 466.2,243.1 471.3,241.7 476.4,240.8 481.6,239.6 486.7,239.3 491.8,238.8 496.9,238.4 502.0,237.6 507.1,236.7 510.7,236.4 515.8,235.9 520.9,235.6 526.0,234.7 529.4,233.0 533.7,232.7" fill="none" stroke="#ff0000" stroke-width="2.2" stroke-linejoin="round" shape-rendering="crispEdges"/>
<polyline points="0.0,364.5 3.4,362.0 6.8,356.0 10.2,350.9 13.6,345.0 17.0,339.0 20.4,333.9 23.9,328.8 27.3,324.2 30.7,319.4 34.1,313.4 37.5,305.8 40.9,300.3 44.3,294.7 47.7,290.4 51.1,286.7 54.5,283.6 59.8,279.5 64.7,275.6 69.6,270.7 74.5,266.6 79.5,262.6 84.4,258.0 89.3,253.6 93.4,250.3 97.5,247.8 102.4,246.5 108.9,246.2 115.5,245.4 120.4,244.9 123.6,244.1 128.6,244.5 131.8,244.9 135.1,247.0 139.2,251.1 143.4,256.2 146.8,261.3 150.2,269.0 153.6,275.0 157.0,280.9 160.4,286.8 163.9,293.7 169.0,299.6 174.1,305.6 179.2,311.6 185.0,319.9 190.5,326.0 196.0,329.9 201.6,332.6 207.1,334.3 214.9,335.1 220.4,334.3 224.9,332.6 229.3,329.3 233.7,327.1 239.3,324.9 245.0,321.3 250.4,317.5 255.6,313.3 260.7,309.8 265.8,308.1 270.9,306.8 274.3,303.9 279.4,298.8 284.5,292.8 289.6,285.1 294.7,280.0 299.8,274.1 305.0,268.1 310.1,263.0 313.5,261.3 318.6,260.4 326.8,259.8 331.9,258.6 335.3,256.9 340.4,259.0 345.6,261.0 350.7,263.2 355.8,265.8 360.9,269.5 366.0,272.9 371.1,276.3 376.2,279.4 381.3,282.0 386.4,284.9 391.5,287.6 396.7,287.9 401.8,286.6 405.2,283.7 408.6,277.7 412.0,270.9 415.4,264.9 420.2,259.2 425.3,252.4 430.4,246.4 435.6,237.9 440.7,231.1 445.8,224.3 450.9,217.5 456.0,211.5 461.1,205.6 464.5,201.3 467.9,199.1 471.3,200.1 474.7,203.0 478.1,207.3 481.6,212.4 485.0,217.5 488.4,221.7 493.5,225.7 496.9,229.4 500.3,234.5 505.4,240.5 510.7,246.6 515.8,251.7 519.2,256.8 522.6,260.3 526.0,262.0 529.4,263.2 532.0,264.5 533.2,266.2" fill="none" stroke="#000000" stroke-width="2.2" stroke-linejoin="round" shape-rendering="crispEdges"/>
<line x1="154" y1="384.5" x2="559" y2="286" stroke="#0000ff" stroke-width="2.2" shape-rendering="crispEdges"/>
<rect x="568" y="248" width="43" height="16" fill="#000" shape-rendering="crispEdges"/>
<text x="569.5" y="260" font-size="11" fill="#00ff00" style="stroke:none">130100.0</text>
<g shape-rendering="crispEdges"><rect x="0" y="552" width="1" height="19" fill="#008000"/><rect x="1" y="550" width="1" height="21" fill="#008000"/><rect x="2" y="545" width="2" height="26" fill="#008000"/><rect x="4" y="545" width="1" height="26" fill="#008000"/><rect x="5" y="544" width="2" height="27" fill="#008000"/><rect x="7" y="535" width="2" height="36" fill="#008000"/><rect x="9" y="549" width="1" height="22" fill="#008000"/><rect x="10" y="548" width="2" height="23" fill="#008000"/><rect x="12" y="540" width="2" height="31" fill="#008000"/><rect x="14" y="547" width="1" height="24" fill="#008000"/><rect x="15" y="551" width="3" height="20" fill="#008000"/><rect x="18" y="538" width="2" height="33" fill="#008000"/><rect x="20" y="548" width="3" height="23" fill="#008000"/><rect x="23" y="549" width="2" height="22" fill="#008000"/><rect x="25" y="541" width="2" height="30" fill="#008000"/><rect x="27" y="546" width="4" height="25" fill="#008000"/><rect x="31" y="541" width="3" height="30" fill="#008000"/><rect x="34" y="545" width="3" height="26" fill="#008000"/><rect x="37" y="543" width="2" height="28" fill="#008000"/><rect x="39" y="539" width="2" height="32" fill="#008000"/><rect x="41" y="545" width="3" height="26" fill="#008000"/><rect x="44" y="538" width="2" height="33" fill="#008000"/><rect x="46" y="540" width="2" height="31" fill="#008000"/><rect x="48" y="553" width="1" height="18" fill="#008000"/><rect x="49" y="546" width="3" height="25" fill="#008000"/><rect x="52" y="549" width="2" height="22" fill="#008000"/><rect x="54" y="548" width="4" height="23" fill="#008000"/><rect x="58" y="552" width="2" height="19" fill="#008000"/><rect x="60" y="522" width="2" height="49" fill="#008000"/><rect x="62" y="548" width="5" height="23" fill="#008000"/><rect x="67" y="525" width="3" height="46" fill="#008000"/><rect x="70" y="549" width="1" height="22" fill="#008000"/><rect x="71" y="539" width="2" height="32" fill="#008000"/><rect x="73" y="545" width="2" height="26" fill="#008000"/><rect x="75" y="541" width="2" height="30" fill="#008000"/><rect x="77" y="558" width="1" height="13" fill="#008000"/><rect x="78" y="552" width="2" height="19" fill="#008000"/><rect x="80" y="552" width="2" height="19" fill="#008000"/><rect x="82" y="553" width="1" height="18" fill="#008000"/><rect x="83" y="542" width="2" height="29" fill="#008000"/><rect x="85" y="549" width="1" height="22" fill="#008000"/><rect x="86" y="551" width="2" height="20" fill="#008000"/><rect x="88" y="552" width="2" height="19" fill="#008000"/><rect x="90" y="550" width="2" height="21" fill="#008000"/><rect x="92" y="536" width="2" height="35" fill="#008000"/><rect x="94" y="549" width="2" height="22" fill="#008000"/><rect x="96" y="556" width="1" height="15" fill="#008000"/><rect x="97" y="552" width="3" height="19" fill="#008000"/><rect x="100" y="554" width="1" height="17" fill="#008000"/><rect x="101" y="547" width="2" height="24" fill="#008000"/><rect x="103" y="553" width="1" height="18" fill="#008000"/><rect x="104" y="552" width="4" height="19" fill="#008000"/><rect x="108" y="554" width="2" height="17" fill="#008000"/><rect x="110" y="555" width="2" height="16" fill="#008000"/><rect x="112" y="554" width="2" height="17" fill="#008000"/><rect x="114" y="548" width="2" height="23" fill="#008000"/><rect x="116" y="552" width="2" height="19" fill="#008000"/><rect x="118" y="547" width="2" height="24" fill="#008000"/><rect x="120" y="554" width="1" height="17" fill="#008000"/><rect x="121" y="549" width="2" height="22" fill="#008000"/><rect x="123" y="544" width="1" height="27" fill="#008000"/><rect x="124" y="541" width="2" height="30" fill="#008000"/><rect x="126" y="540" width="1" height="31" fill="#008000"/><rect x="127" y="552" width="10" height="19" fill="#008000"/><rect x="137" y="553" width="2" height="18" fill="#008000"/><rect x="139" y="551" width="3" height="20" fill="#008000"/><rect x="142" y="549" width="1" height="22" fill="#008000"/><rect x="143" y="546" width="2" height="25" fill="#008000"/><rect x="145" y="552" width="2" height="19" fill="#008000"/><rect x="147" y="556" width="2" height="15" fill="#008000"/><rect x="149" y="552" width="2" height="19" fill="#008000"/><rect x="151" y="553" width="2" height="18" fill="#008000"/><rect x="153" y="554" width="2" height="17" fill="#008000"/><rect x="155" y="553" width="5" height="18" fill="#008000"/><rect x="160" y="560" width="1" height="11" fill="#008000"/><rect x="161" y="551" width="1" height="20" fill="#008000"/><rect x="162" y="549" width="2" height="22" fill="#008000"/><rect x="164" y="545" width="2" height="26" fill="#008000"/><rect x="166" y="546" width="2" height="25" fill="#008000"/><rect x="168" y="547" width="3" height="24" fill="#008000"/><rect x="171" y="541" width="2" height="30" fill="#008000"/><rect x="173" y="546" width="2" height="25" fill="#008000"/><rect x="175" y="552" width="3" height="19" fill="#008000"/><rect x="178" y="557" width="1" height="14" fill="#008000"/><rect x="179" y="546" width="2" height="25" fill="#008000"/><rect x="181" y="550" width="2" height="21" fill="#008000"/><rect x="183" y="547" width="2" height="24" fill="#008000"/><rect x="185" y="550" width="2" height="21" fill="#008000"/><rect x="187" y="546" width="2" height="25" fill="#008000"/><rect x="189" y="550" width="5" height="21" fill="#008000"/><rect x="194" y="552" width="1" height="19" fill="#008000"/><rect x="195" y="539" width="2" height="32" fill="#008000"/><rect x="197" y="552" width="2" height="19" fill="#008000"/><rect x="199" y="533" width="2" height="38" fill="#008000"/><rect x="201" y="550" width="1" height="21" fill="#008000"/><rect x="202" y="530" width="2" height="41" fill="#008000"/><rect x="204" y="532" width="1" height="39" fill="#008000"/><rect x="205" y="548" width="2" height="23" fill="#008000"/><rect x="207" y="551" width="5" height="20" fill="#008000"/><rect x="212" y="549" width="3" height="22" fill="#008000"/><rect x="215" y="552" width="5" height="19" fill="#008000"/><rect x="220" y="550" width="3" height="21" fill="#008000"/><rect x="223" y="552" width="5" height="19" fill="#008000"/><rect x="228" y="552" width="4" height="19" fill="#008000"/><rect x="232" y="553" width="2" height="18" fill="#008000"/><rect x="234" y="552" width="2" height="19" fill="#008000"/><rect x="236" y="539" width="2" height="32" fill="#008000"/><rect x="238" y="519" width="1" height="52" fill="#008000"/><rect x="239" y="510" width="2" height="61" fill="#008000"/><rect x="241" y="512" width="1" height="59" fill="#008000"/><rect x="242" y="514" width="2" height="57" fill="#008000"/><rect x="244" y="518" width="2" height="53" fill="#008000"/><rect x="246" y="518" width="2" height="53" fill="#008000"/><rect x="248" y="530" width="2" height="41" fill="#008000"/><rect x="250" y="531" width="2" height="40" fill="#008000"/><rect x="252" y="533" width="2" height="38" fill="#008000"/><rect x="254" y="540" width="2" height="31" fill="#008000"/><rect x="256" y="525" width="2" height="46" fill="#008000"/><rect x="258" y="534" width="2" height="37" fill="#008000"/><rect x="260" y="538" width="1" height="33" fill="#008000"/><rect x="261" y="544" width="2" height="27" fill="#008000"/><rect x="263" y="525" width="3" height="46" fill="#008000"/><rect x="266" y="544" width="1" height="27" fill="#008000"/><rect x="267" y="545" width="3" height="26" fill="#008000"/><rect x="270" y="533" width="2" height="38" fill="#008000"/><rect x="272" y="525" width="2" height="46" fill="#008000"/><rect x="274" y="540" width="3" height="31" fill="#008000"/><rect x="277" y="542" width="2" height="29" fill="#008000"/><rect x="279" y="532" width="2" height="39" fill="#008000"/><rect x="281" y="542" width="2" height="29" fill="#008000"/><rect x="283" y="543" width="2" height="28" fill="#008000"/><rect x="285" y="530" width="3" height="41" fill="#008000"/><rect x="288" y="538" width="3" height="33" fill="#008000"/><rect x="291" y="534" width="2" height="37" fill="#008000"/><rect x="293" y="531" width="3" height="40" fill="#008000"/><rect x="296" y="537" width="2" height="34" fill="#008000"/><rect x="298" y="536" width="6" height="35" fill="#008000"/><rect x="304" y="540" width="2" height="31" fill="#008000"/><rect x="306" y="534" width="2" height="37" fill="#008000"/><rect x="308" y="537" width="2" height="34" fill="#008000"/><rect x="310" y="544" width="1" height="27" fill="#008000"/><rect x="311" y="543" width="2" height="28" fill="#008000"/><rect x="313" y="532" width="2" height="39" fill="#008000"/><rect x="315" y="543" width="1" height="28" fill="#008000"/><rect x="316" y="544" width="1" height="27" fill="#008000"/><rect x="317" y="540" width="1" height="31" fill="#008000"/><rect x="318" y="542" width="2" height="29" fill="#008000"/><rect x="320" y="541" width="2" height="30" fill="#008000"/><rect x="322" y="542" width="1" height="29" fill="#008000"/><rect x="323" y="537" width="1" height="34" fill="#008000"/><rect x="324" y="535" width="2" height="36" fill="#008000"/><rect x="326" y="539" width="2" height="32" fill="#008000"/><rect x="328" y="522" width="2" height="49" fill="#008000"/><rect x="330" y="527" width="1" height="44" fill="#008000"/><rect x="331" y="533" width="2" height="38" fill="#008000"/><rect x="333" y="539" width="3" height="32" fill="#008000"/><rect x="336" y="540" width="4" height="31" fill="#008000"/><rect x="340" y="542" width="2" height="29" fill="#008000"/><rect x="342" y="536" width="2" height="35" fill="#008000"/><rect x="344" y="543" width="1" height="28" fill="#008000"/><rect x="345" y="538" width="2" height="33" fill="#008000"/><rect x="347" y="539" width="2" height="32" fill="#008000"/><rect x="349" y="541" width="3" height="30" fill="#008000"/><rect x="352" y="543" width="4" height="28" fill="#008000"/><rect x="356" y="545" width="4" height="26" fill="#008000"/><rect x="360" y="542" width="4" height="29" fill="#008000"/><rect x="364" y="538" width="2" height="33" fill="#008000"/><rect x="366" y="537" width="3" height="34" fill="#008000"/><rect x="369" y="544" width="1" height="27" fill="#008000"/><rect x="370" y="548" width="2" height="23" fill="#008000"/><rect x="372" y="545" width="7" height="26" fill="#008000"/><rect x="379" y="547" width="3" height="24" fill="#008000"/><rect x="382" y="539" width="1" height="32" fill="#008000"/><rect x="383" y="533" width="2" height="38" fill="#008000"/><rect x="385" y="537" width="1" height="34" fill="#008000"/><rect x="386" y="552" width="1" height="19" fill="#008000"/><rect x="387" y="548" width="3" height="23" fill="#008000"/><rect x="390" y="547" width="2" height="24" fill="#008000"/><rect x="392" y="548" width="2" height="23" fill="#008000"/><rect x="394" y="531" width="2" height="40" fill="#008000"/><rect x="396" y="540" width="1" height="31" fill="#008000"/><rect x="397" y="528" width="2" height="43" fill="#008000"/><rect x="399" y="532" width="2" height="39" fill="#008000"/><rect x="401" y="523" width="2" height="48" fill="#008000"/><rect x="403" y="540" width="2" height="31" fill="#008000"/><rect x="405" y="527" width="1" height="44" fill="#008000"/><rect x="406" y="518" width="2" height="53" fill="#008000"/><rect x="408" y="534" width="2" height="37" fill="#008000"/><rect x="410" y="528" width="2" height="43" fill="#008000"/><rect x="412" y="543" width="2" height="28" fill="#008000"/><rect x="414" y="540" width="2" height="31" fill="#008000"/><rect x="416" y="529" width="3" height="42" fill="#008000"/><rect x="419" y="546" width="1" height="25" fill="#008000"/><rect x="420" y="541" width="3" height="30" fill="#008000"/><rect x="423" y="538" width="3" height="33" fill="#008000"/><rect x="426" y="534" width="2" height="37" fill="#008000"/><rect x="428" y="518" width="4" height="53" fill="#008000"/><rect x="432" y="533" width="2" height="38" fill="#008000"/><rect x="434" y="481" width="2" height="90" fill="#008000"/><rect x="436" y="543" width="3" height="28" fill="#008000"/><rect x="439" y="527" width="2" height="44" fill="#008000"/><rect x="441" y="541" width="2" height="30" fill="#008000"/><rect x="443" y="532" width="2" height="39" fill="#008000"/><rect x="445" y="544" width="2" height="27" fill="#008000"/><rect x="447" y="545" width="3" height="26" fill="#008000"/><rect x="450" y="534" width="1" height="37" fill="#008000"/><rect x="451" y="548" width="3" height="23" fill="#008000"/><rect x="454" y="544" width="1" height="27" fill="#008000"/><rect x="455" y="542" width="4" height="29" fill="#008000"/><rect x="459" y="548" width="2" height="23" fill="#008000"/><rect x="461" y="539" width="1" height="32" fill="#008000"/><rect x="462" y="533" width="2" height="38" fill="#008000"/><rect x="464" y="543" width="2" height="28" fill="#008000"/><rect x="466" y="537" width="2" height="34" fill="#008000"/><rect x="468" y="544" width="2" height="27" fill="#008000"/><rect x="470" y="553" width="2" height="18" fill="#008000"/><rect x="472" y="550" width="3" height="21" fill="#008000"/><rect x="475" y="552" width="2" height="19" fill="#008000"/><rect x="477" y="556" width="2" height="15" fill="#008000"/><rect x="479" y="548" width="2" height="23" fill="#008000"/><rect x="481" y="550" width="3" height="21" fill="#008000"/><rect x="484" y="545" width="2" height="26" fill="#008000"/><rect x="486" y="547" width="4" height="24" fill="#008000"/><rect x="490" y="543" width="2" height="28" fill="#008000"/><rect x="492" y="550" width="2" height="21" fill="#008000"/><rect x="494" y="542" width="3" height="29" fill="#008000"/><rect x="497" y="539" width="2" height="32" fill="#008000"/><rect x="499" y="528" width="2" height="43" fill="#008000"/><rect x="501" y="546" width="3" height="25" fill="#008000"/><rect x="504" y="540" width="2" height="31" fill="#008000"/><rect x="506" y="545" width="2" height="26" fill="#008000"/><rect x="508" y="548" width="1" height="23" fill="#008000"/><rect x="509" y="546" width="3" height="25" fill="#008000"/><rect x="512" y="546" width="2" height="25" fill="#008000"/><rect x="514" y="548" width="1" height="23" fill="#008000"/><rect x="515" y="546" width="5" height="25" fill="#008000"/><rect x="520" y="542" width="2" height="29" fill="#008000"/><rect x="522" y="545" width="1" height="26" fill="#008000"/><rect x="523" y="536" width="2" height="35" fill="#008000"/><rect x="525" y="546" width="2" height="25" fill="#008000"/><rect x="527" y="535" width="2" height="36" fill="#008000"/><rect x="529" y="547" width="1" height="24" fill="#008000"/><rect x="530" y="550" width="4" height="21" fill="#008000"/></g>
<polyline points="0.0,548.6 9.8,548.6 14.7,548.1 19.6,547.1 26.5,546.1 29.5,545.6 35.4,545.6 36.3,546.6 38.5,546.4 39.3,545.6 44.2,544.6 45.2,543.9 47.0,544.6 57.0,544.6 59.0,545.6 62.0,545.2 65.0,544.8 70.0,544.9 78.0,544.8 82.0,545.0 84.0,545.8 90.0,546.2 92.0,547.3 96.0,548.5 99.0,549.5 103.0,550.2 108.0,551.0 113.0,551.8 119.3,552.4 123.2,552.5 125.8,550.6 132.4,550.6 138.9,549.9 146.8,549.9 149.4,551.2 153.3,552.5 160.0,553.2 165.2,552.4 171.8,551.1 177.0,549.8 182.3,548.8 188.8,547.5 192.7,548.2 199.3,548.8 203.2,548.6 205.8,546.9 212.4,546.6 222.8,546.6 226.8,548.2 230.7,550.5 235.9,550.8 238.3,551.0 240.8,546.0 244.1,542.8 248.2,538.6 253.2,534.5 258.1,532.0 261.4,529.9 265.6,529.5 268.0,532.0 271.4,536.2 276.3,537.5 284.6,538.6 292.9,538.6 297.8,537.5 310.0,538.0 317.9,538.2 323.1,539.5 327.0,539.3 332.3,538.0 340.1,538.2 344.0,537.7 351.9,538.0 355.8,539.3 359.1,541.6 365.0,541.9 370.2,542.1 372.8,542.9 380.7,543.6 385.3,542.5 390.0,543.6 394.9,544.8 399.9,542.0 404.8,540.3 408.1,538.1 413.1,537.5 418.1,536.2 424.7,536.2 428.0,537.0 431.3,535.3 436.2,533.2 441.2,533.2 446.2,533.7 451.1,534.5 454.4,534.8 457.7,537.8 460.0,538.6 462.0,541.6 467.9,541.9 473.1,543.8 479.6,546.1 486.2,546.9 491.4,548.4 498.0,548.7 501.9,546.5 505.8,545.2 512.4,545.2 518.9,544.8 525.4,544.5 530.7,545.2 533.3,545.8" fill="none" stroke="#ff0000" stroke-width="2.2" stroke-linejoin="round" shape-rendering="crispEdges"/>
<g shape-rendering="crispEdges"><rect x="0" y="571" width="563" height="1" fill="#000"/><rect x="565" y="573" width="46" height="14" fill="#ececec"/><rect x="26" y="571" width="1" height="16" fill="#000"/><rect x="74" y="571" width="1" height="16" fill="#000"/><rect x="106" y="571" width="1" height="16" fill="#000"/><rect x="133" y="571" width="1" height="16" fill="#000"/><rect x="161" y="571" width="1" height="16" fill="#000"/><rect x="191" y="571" width="1" height="16" fill="#000"/><rect x="221" y="571" width="1" height="16" fill="#000"/><rect x="252" y="571" width="1" height="16" fill="#000"/><rect x="278" y="571" width="1" height="16" fill="#000"/><rect x="307" y="571" width="1" height="16" fill="#000"/><rect x="337" y="571" width="1" height="16" fill="#000"/><rect x="369" y="571" width="1" height="16" fill="#000"/><rect x="417" y="571" width="1" height="16" fill="#000"/><rect x="448" y="571" width="1" height="16" fill="#000"/><rect x="476" y="571" width="1" height="16" fill="#000"/><rect x="503" y="571" width="1" height="16" fill="#000"/><rect x="534" y="571" width="1" height="16" fill="#000"/><rect x="562" y="571" width="1" height="16" fill="#000"/><rect x="54" y="571" width="1" height="3" fill="#000"/><rect x="395" y="571" width="1" height="3" fill="#000"/></g>
<text x="-1" y="584.5" font-size="12" fill="#000">Dec</text><text x="28" y="584.5" font-size="12" fill="#000">2021</text><text x="76" y="584.5" font-size="12" fill="#000">Mar</text><text x="108" y="584.5" font-size="12" fill="#000">Apr</text><text x="135" y="584.5" font-size="12" fill="#000">May</text><text x="163" y="584.5" font-size="12" fill="#000">Jun</text><text x="193" y="584.5" font-size="12" fill="#000">Jul</text><text x="223" y="584.5" font-size="12" fill="#000">Aug</text><text x="254" y="584.5" font-size="12" fill="#000">Sep</text><text x="280" y="584.5" font-size="12" fill="#000">Oct</text><text x="309" y="584.5" font-size="12" fill="#000">Nov</text><text x="339" y="584.5" font-size="12" fill="#000">Dec</text><text x="371" y="584.5" font-size="12" fill="#000">2022</text><text x="419" y="584.5" font-size="12" fill="#000">Mar</text><text x="450" y="584.5" font-size="12" fill="#000">Apr</text><text x="478" y="584.5" font-size="12" fill="#000">May</text><text x="505" y="584.5" font-size="12" fill="#000">Jun</text><text x="536" y="584.5" font-size="12" fill="#000">Jul</text>
</svg></body></html>
